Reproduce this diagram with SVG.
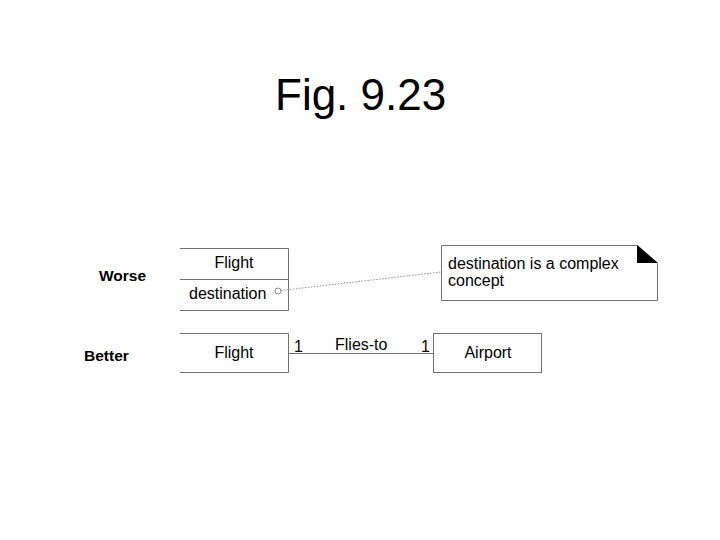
<svg xmlns="http://www.w3.org/2000/svg" width="720" height="540" viewBox="0 0 720 540">
<style>
text{font-family:"Liberation Sans",Arial,sans-serif;fill:#000}
.lbl{font-size:16px}
.b{font-size:15.5px;font-weight:bold}
.ln{stroke:#707070;stroke-width:1;fill:none}
</style>
<rect width="720" height="540" fill="#fff"/>
<text x="275" y="110" font-size="44">Fig. 9.23</text>
<text class="b" x="99" y="281">Worse</text>
<text class="b" x="84" y="361">Better</text>
<g id="flight-worse">
<path class="ln" d="M180 248.5H288.5V310.5H180M180 279.5H288.5"/>
<text class="lbl" x="234" y="268" text-anchor="middle">Flight</text>
<text class="lbl" x="189" y="299">destination</text>
</g>
<g id="note">
<path d="M441.5 245.5H637.5L657.5 263.5V300.5H441.5Z" fill="#fff" stroke="#707070"/>
<path d="M637 245L658 263H637Z" fill="#000"/>
<text class="lbl" x="448" y="269">destination is a complex</text>
<text class="lbl" x="448" y="286">concept</text>
</g>
<g id="flight-better">
<path class="ln" d="M180 333.5H288.5V372.5H180"/>
<text class="lbl" x="234" y="358" text-anchor="middle">Flight</text>
</g>
<g id="airport">
<rect class="ln" x="433.5" y="333.5" width="108" height="39"/>
<text class="lbl" x="488" y="358" text-anchor="middle">Airport</text>
</g>
<g id="connectors">
<circle cx="278" cy="291" r="3" fill="#fff" stroke="#707070" stroke-width="0.8"/>
<line x1="281" y1="290.5" x2="441" y2="272" stroke="#909090" stroke-width="1" stroke-dasharray="1.5 1.5"/>
<line class="ln" x1="288.5" y1="353.5" x2="433.5" y2="353.5"/>
<text class="lbl" x="294" y="352">1</text>
<text class="lbl" x="335" y="350">Flies-to</text>
<text class="lbl" x="421" y="352">1</text>
</g>
</svg>
